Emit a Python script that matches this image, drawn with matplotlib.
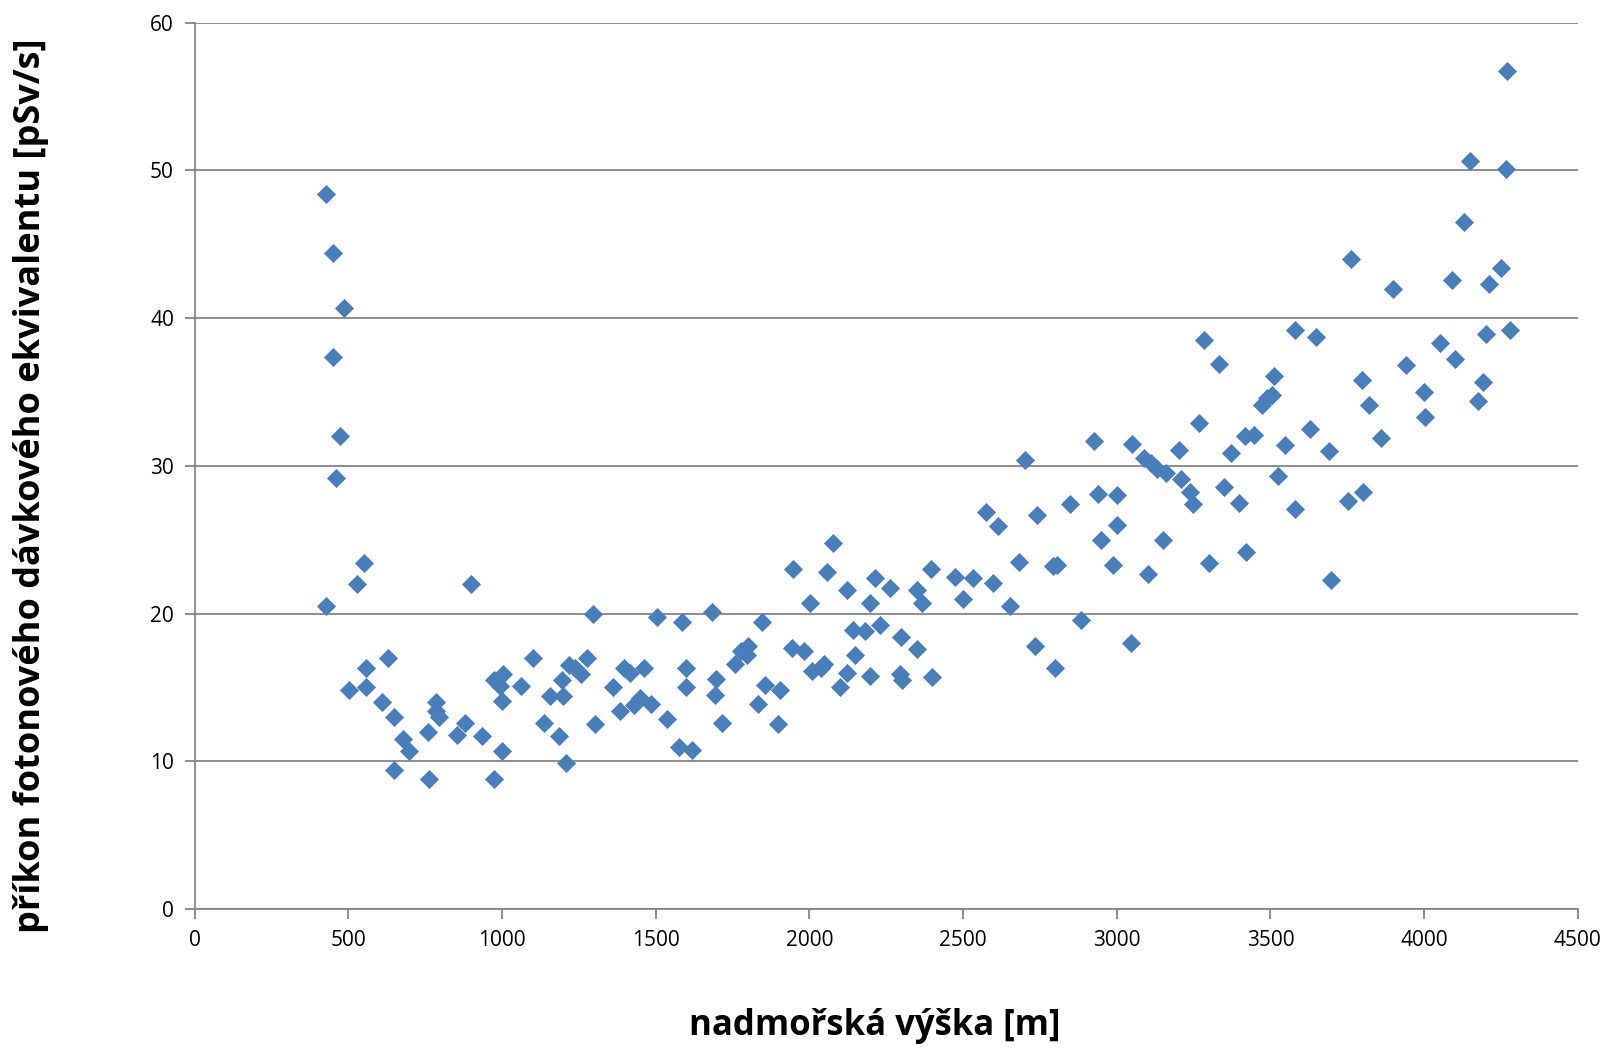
import matplotlib.pyplot as plt

# nadmořská výška [m]
vyska = [
    428, 451, 484, 451, 474, 458, 428, 551, 528, 501, 558, 558, 628, 608, 648, 648,
    678, 698, 762, 758, 785, 785, 795, 852, 879, 899, 935, 972, 972, 992, 999, 1002,
    999, 1062, 1099, 1136, 1156, 1186, 1199, 1196, 1209, 1216, 1236, 1256, 1276, 1296,
    1303, 1360, 1383, 1396, 1416, 1430, 1450, 1460, 1483, 1503, 1537, 1577, 1584, 1597,
    1597, 1617, 1684, 1697, 1694, 1714, 1757, 1777, 1800, 1798, 1834, 1844, 1854, 1898,
    1904, 1948, 1944, 1981, 2001, 2008, 2038, 2048, 2058, 2078, 2098, 2121, 2121, 2142,
    2148, 2182, 2198, 2198, 2212, 2228, 2262, 2299, 2295, 2302, 2349, 2349, 2365, 2396,
    2399, 2472, 2499, 2533, 2573, 2596, 2613, 2653, 2683, 2700, 2733, 2740, 2793, 2800,
    2806, 2847, 2884, 2927, 2940, 2947, 2987, 3000, 3000, 3047, 3051, 3087, 3101, 3111,
    3131, 3151, 3161, 3201, 3208, 3238, 3248, 3268, 3284, 3301, 3334, 3348, 3371, 3398,
    3418, 3421, 3448, 3471, 3488, 3505, 3512, 3525, 3548, 3581, 3581, 3628, 3648, 3692,
    3698, 3752, 3762, 3799, 3802, 3822, 3859, 3899, 3942, 4000, 4003, 4050, 4090, 4100,
    4130, 4150, 4176, 4193, 4200, 4210, 4250, 4267, 4270, 4280,
]

# příkon fotonového dávkového ekvivalentu [pSv/s]
prikon = [
    48.4, 44.4, 40.7, 37.4, 32.0, 29.2, 20.5, 23.4, 22.0, 14.8, 16.3, 15.0, 17.0, 14.0, 13.0, 9.4,
    11.5, 10.7, 8.8, 12.0, 14.0, 13.4, 13.0, 11.8, 12.6, 22.0, 11.7, 8.8, 15.5, 15.1, 14.1, 15.9,
    10.7, 15.1, 17.0, 12.6, 14.4, 11.7, 14.4, 15.5, 9.9, 16.5, 16.3, 15.9, 17.0, 20.0,
    12.5, 15.0, 13.4, 16.3, 16.0, 13.8, 14.3, 16.3, 13.9, 19.8, 12.9, 11.0, 19.4, 16.3,
    15.0, 10.8, 20.1, 15.6, 14.5, 12.6, 16.6, 17.5, 17.8, 17.2, 13.9, 19.4, 15.2, 12.5,
    14.8, 23.0, 17.7, 17.5, 20.7, 16.1, 16.3, 16.6, 22.8, 24.8, 15.0, 16.0, 21.6, 18.9,
    17.2, 18.8, 20.7, 15.8, 22.4, 19.2, 21.7, 18.4, 15.9, 15.5, 21.6, 17.6, 20.7, 23.0,
    15.7, 22.5, 21.0, 22.4, 26.9, 22.1, 25.9, 20.5, 23.5, 30.4, 17.8, 26.7, 23.2, 16.3,
    23.3, 27.4, 19.6, 31.7, 28.1, 25.0, 23.3, 28.0, 26.0, 18.0, 31.5, 30.5, 22.7, 30.2,
    29.8, 25.0, 29.5, 31.1, 29.1, 28.2, 27.4, 32.9, 38.5, 23.4, 36.9, 28.6, 30.9, 27.5,
    32.0, 24.2, 32.1, 34.1, 34.6, 34.8, 36.1, 29.3, 31.4, 39.2, 27.1, 32.5, 38.7, 31.0,
    22.3, 27.6, 44.0, 35.8, 28.2, 34.1, 31.9, 42.0, 36.8, 35.0, 33.3, 38.3, 42.6, 37.2,
    46.5, 50.6, 34.4, 35.7, 38.9, 42.3, 43.4, 50.1, 56.7, 39.2,
]

x_ticks = [0, 500, 1000, 1500, 2000, 2500, 3000, 3500, 4000, 4500]
y_ticks = [0, 10, 20, 30, 40, 50, 60]

plt.rcParams['font.family'] = ['Open Sans', 'DejaVu Sans']

fig = plt.figure(figsize=(16.1, 10.51), dpi=100)
ax = fig.add_axes([0.121, 0.135, 0.859, 0.8435])

ax.scatter(vyska, prikon, marker='D', s=95, color='#4a7ebb', linewidths=0, zorder=3)

ax.set_xlim(0, 4500)
ax.set_ylim(0, 60)
ax.set_xticks(x_ticks)
ax.set_yticks(y_ticks)

# jen vodorovná mřížka jako v Excelu
ax.grid(axis='y', color='#868686', linewidth=1.3)
ax.set_axisbelow(True)
for side in ['top', 'right']:
    ax.spines[side].set_visible(False)
for side in ['left', 'bottom']:
    ax.spines[side].set_color('#868686')
    ax.spines[side].set_linewidth(1.3)
ax.tick_params(axis='both', direction='out', length=7, width=1.3, color='#868686',
               labelsize=15, pad=8)

# popisky os
fig.text(0.543, 0.024, 'nadmořská výška [m]', fontsize=25, fontweight='bold',
         ha='center', va='center')
fig.text(0.019, 0.538, 'příkon fotonového dávkového ekvivalentu [pSv/s]', fontsize=26,
         fontweight='bold', rotation=90, ha='center', va='center')

fig.savefig('out.png', dpi=100)
